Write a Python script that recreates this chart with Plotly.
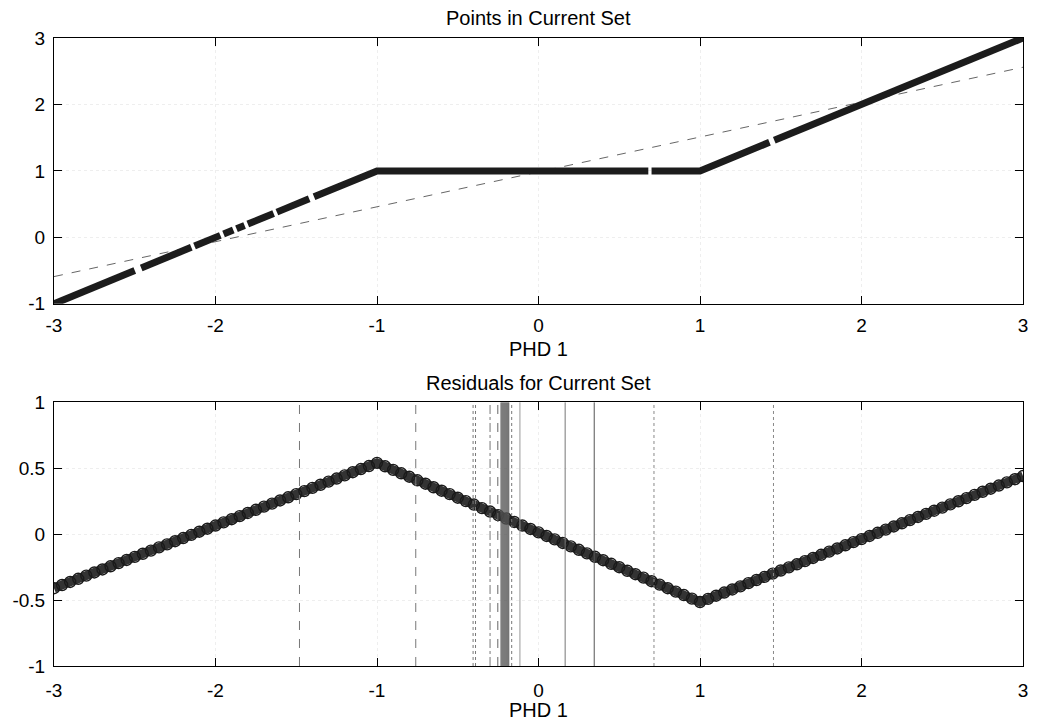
import plotly.graph_objects as go
from plotly.subplots import make_subplots

# ---------------- data ----------------
# Top panel: runs of dense points (None = gap between runs)
top_x = [-3.0, -2.50, None, -2.46, -2.15, None, -2.13, -1.97, None, -1.95, -1.89, None,
         -1.87, -1.82, None, -1.80, -1.64, None, -1.62, -1.42, None, -1.39, -1.0, 0.68, None,
         0.70, 1.0, 1.43, None, 1.46, 3.0]
top_y = [-1.0, -0.50, None, -0.46, -0.15, None, -0.13, 0.03, None, 0.05, 0.11, None,
         0.13, 0.18, None, 0.20, 0.36, None, 0.38, 0.58, None, 0.61, 1.0, 1.0, None,
         1.0, 1.0, 1.43, None, 1.46, 3.0]

# Linear fit line (top panel)
fit_x = [-3.0, 3.0]
fit_y = [-0.59, 2.56]

# Bottom panel: residuals
knot_x = [-3.0, -1.0, 1.0, 3.0]
knot_y = [-0.41, 0.54, -0.515, 0.44]

res_x = [-3.00, -2.95, -2.90, -2.85, -2.80, -2.75, -2.70, -2.65, -2.60, -2.55, -2.50, -2.45,
         -2.40, -2.35, -2.30, -2.25, -2.20, -2.15, -2.10, -2.05, -2.00, -1.95, -1.90, -1.85,
         -1.80, -1.75, -1.70, -1.65, -1.60, -1.55, -1.50, -1.45, -1.40, -1.35, -1.30, -1.25,
         -1.20, -1.15, -1.10, -1.05, -1.00, -0.95, -0.90, -0.85, -0.80, -0.75, -0.70, -0.65,
         -0.60, -0.55, -0.50, -0.45, -0.40, -0.35, -0.30, -0.25, -0.20, -0.15, -0.10, -0.05,
         0.00, 0.05, 0.10, 0.15, 0.20, 0.25, 0.30, 0.35, 0.40, 0.45, 0.50, 0.55,
         0.60, 0.65, 0.70, 0.75, 0.80, 0.85, 0.90, 0.95, 1.00, 1.05, 1.10, 1.15,
         1.20, 1.25, 1.30, 1.35, 1.40, 1.45, 1.50, 1.55, 1.60, 1.65, 1.70, 1.75,
         1.80, 1.85, 1.90, 1.95, 2.00, 2.05, 2.10, 2.15, 2.20, 2.25, 2.30, 2.35,
         2.40, 2.45, 2.50, 2.55, 2.60, 2.65, 2.70, 2.75, 2.80, 2.85, 2.90, 2.95, 3.00]
res_y = [-0.410, -0.386, -0.363, -0.339, -0.315, -0.291, -0.268, -0.244, -0.220, -0.196, -0.173, -0.149,
         -0.125, -0.101, -0.078, -0.054, -0.030, -0.006, 0.018, 0.041, 0.065, 0.089, 0.113, 0.136,
         0.160, 0.184, 0.208, 0.231, 0.255, 0.279, 0.303, 0.326, 0.350, 0.374, 0.398, 0.421,
         0.445, 0.469, 0.493, 0.516, 0.540, 0.514, 0.487, 0.461, 0.435, 0.408, 0.382, 0.355,
         0.329, 0.303, 0.276, 0.250, 0.224, 0.197, 0.171, 0.144, 0.118, 0.092, 0.065, 0.039,
         0.013, -0.014, -0.040, -0.067, -0.093, -0.119, -0.146, -0.172, -0.198, -0.225, -0.251, -0.278,
         -0.304, -0.330, -0.357, -0.383, -0.410, -0.436, -0.462, -0.489, -0.515, -0.491, -0.467, -0.443,
         -0.420, -0.396, -0.372, -0.348, -0.324, -0.300, -0.276, -0.252, -0.229, -0.205, -0.181, -0.157,
         -0.133, -0.109, -0.085, -0.061, -0.038, -0.014, 0.010, 0.034, 0.058, 0.082, 0.106, 0.130,
         0.153, 0.177, 0.201, 0.225, 0.249, 0.273, 0.297, 0.321, 0.344, 0.368, 0.392, 0.416, 0.440]

# Vertical reference lines in the residual panel
vline_x = [-1.48, -0.76, -0.405, -0.39, -0.30, -0.252,
           -0.232, -0.226, -0.220, -0.214, -0.208, -0.202, -0.196, -0.190, -0.184,
           -0.166, -0.115, 0.165, 0.345, 0.715, 1.455]
vline_dash = ["dash", "dash", "dot", "dot", "dashdot", "dash",
              "solid", "solid", "solid", "solid", "solid", "solid", "solid", "solid", "solid",
              "dot", "solid", "solid", "solid", "dot", "dot"]
vline_color = ["#777", "#777", "#777", "#777", "#777", "#666",
               "#555", "#555", "#555", "#555", "#555", "#555", "#555", "#555", "#555",
               "#777", "#999", "#777", "#555", "#888", "#888"]

x_ticks = [-3, -2, -1, 0, 1, 2, 3]
x_ticktext = ["-3", "-2", "-1", "0", "1", "2", "3"]
top_y_ticks = [-1, 0, 1, 2, 3]
top_y_ticktext = ["-1", "0", "1", "2", "3"]
bot_y_ticks = [-1, -0.5, 0, 0.5, 1]
bot_y_ticktext = ["-1", "-0.5", "0", "0.5", "1"]

title_top = "Points in Current Set"
title_bot = "Residuals for Current Set"
x_label = "PHD 1"

# ---------------- figure ----------------
FONT = "Liberation Sans, Arial, Helvetica, sans-serif"
fig = make_subplots(rows=2, cols=1, vertical_spacing=0.0)

fig.add_trace(go.Scatter(x=fit_x, y=fit_y, mode="lines",
                         line=dict(color="#666", width=1, dash="dash"),
                         showlegend=False), row=1, col=1)
fig.add_trace(go.Scatter(x=top_x, y=top_y, mode="lines",
                         line=dict(color="#1c1c1c", width=7),
                         connectgaps=False, showlegend=False), row=1, col=1)

fig.add_trace(go.Scatter(x=knot_x, y=knot_y, mode="lines",
                         line=dict(color="#333", width=9),
                         showlegend=False), row=2, col=1)
fig.add_trace(go.Scatter(x=res_x, y=res_y, mode="markers",
                         marker=dict(symbol="circle-open", size=11, color="#1a1a1a",
                                     line=dict(width=1.4, color="#1a1a1a")),
                         showlegend=False), row=2, col=1)

for xv, ds, col in zip(vline_x, vline_dash, vline_color):
    fig.add_shape(type="line", xref="x2", yref="y2", x0=xv, x1=xv, y0=-1, y1=1,
                  line=dict(color=col, width=1, dash=ds), layer="above")

axis_common = dict(showline=True, linecolor="black", linewidth=1, mirror="ticks",
                   ticks="inside", ticklen=8, tickcolor="black", tickwidth=1,
                   showgrid=True, gridcolor="#eeeeee", griddash="dot", gridwidth=1,
                   zeroline=False, tickfont=dict(family=FONT, size=19, color="black"))

fig.update_xaxes(range=[-3, 3], tickvals=x_ticks, ticktext=x_ticktext, **axis_common)
fig.update_yaxes(ticklabelstandoff=4, **axis_common)
fig.update_xaxes(ticklabelstandoff=4, row=1, col=1)
fig.update_xaxes(ticklabelstandoff=7, row=2, col=1)
fig.update_yaxes(range=[-1, 3], tickvals=top_y_ticks, ticktext=top_y_ticktext, row=1, col=1)
fig.update_yaxes(range=[-1, 1], tickvals=bot_y_ticks, ticktext=bot_y_ticktext, row=2, col=1)

fig.update_layout(
    width=1037, height=721,
    margin=dict(l=54, r=9, t=38, b=55),
    plot_bgcolor="white", paper_bgcolor="white",
    font=dict(family=FONT, size=20, color="black"),
    xaxis=dict(domain=[0, 1]),
    yaxis=dict(domain=[0.5767, 1.0]),
    yaxis2=dict(domain=[0.0, 0.4201]),
    annotations=[
        dict(text=title_top, xref="x domain", yref="y domain", x=0.5, y=1.0,
             yshift=20, showarrow=False, yanchor="middle",
             font=dict(family=FONT, size=20)),
        dict(text=title_bot, xref="x2 domain", yref="y2 domain", x=0.5, y=1.0,
             yshift=19, showarrow=False, yanchor="middle",
             font=dict(family=FONT, size=20)),
        dict(text=x_label, xref="x domain", yref="y domain", x=0.5, y=0.0,
             yshift=-45, showarrow=False, yanchor="middle",
             font=dict(family=FONT, size=20)),
        dict(text=x_label, xref="x2 domain", yref="y2 domain", x=0.5, y=0.0,
             yshift=-44, showarrow=False, yanchor="middle",
             font=dict(family=FONT, size=20)),
    ],
)

fig.write_html("out.html", config={"displayModeBar": False},
               post_script="document.body.style.margin='0px';")
